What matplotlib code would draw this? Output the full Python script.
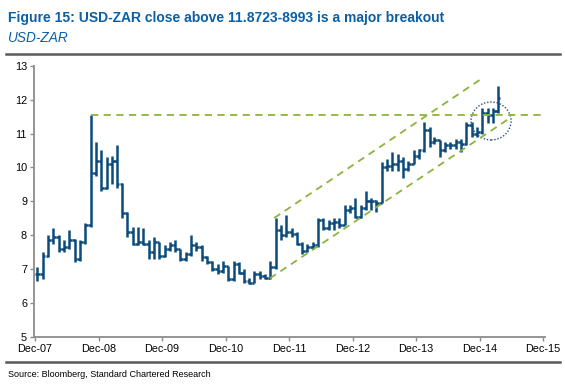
import numpy as np
import pandas as pd
import matplotlib
matplotlib.use("Agg")
import matplotlib.pyplot as plt
import matplotlib.dates as mdates
from matplotlib.lines import Line2D
from matplotlib.patches import Ellipse

plt.rcParams['font.family'] = ['Liberation Sans', 'DejaVu Sans']

# monthly USD-ZAR bars, Dec-07 .. Mar-15
months = pd.date_range("2007-12-01", "2015-03-01", freq="MS")
opens = [6.85, 6.85, 7.40, 7.85, 7.95, 7.60, 7.65, 7.85, 7.30, 7.80,
         8.30, 9.85, 10.20, 9.40, 10.10, 10.20, 9.50, 8.65, 8.10, 7.75,
         7.80, 7.75, 7.50, 7.80, 7.40, 7.60, 7.70, 7.60, 7.30, 7.45,
         7.70, 7.65, 7.35, 7.20, 7.00, 6.95, 7.10, 6.70, 7.15, 6.90,
         6.65, 6.60, 6.85, 6.80, 6.75, 7.05, 8.15, 8.00, 8.10, 8.05,
         7.75, 7.55, 7.65, 7.70, 8.45, 8.20, 8.35, 8.40, 8.30, 8.75,
         8.80, 8.55, 8.80, 9.00, 9.00, 8.95, 10.00, 10.05, 10.10, 10.20,
         9.95, 10.10, 10.35, 10.50, 11.10, 10.75, 10.80, 10.50, 10.65, 10.65,
         10.75, 10.70, 11.25, 11.00, 11.05, 11.60, 11.55, 11.65]
highs = [7.05, 7.50, 8.00, 8.20, 8.00, 7.85, 8.15, 7.90, 7.85, 8.35,
         11.56, 10.75, 10.50, 10.30, 10.35, 10.65, 9.55, 8.70, 8.25, 8.25,
         8.20, 7.85, 7.95, 7.80, 7.70, 7.80, 7.85, 7.60, 7.50, 8.00,
         7.80, 7.70, 7.40, 7.25, 7.15, 7.25, 7.10, 7.25, 7.20, 7.00,
         6.75, 6.95, 6.95, 6.85, 7.25, 8.50, 8.30, 8.60, 8.20, 8.10,
         7.80, 7.75, 7.80, 8.50, 8.50, 8.45, 8.50, 8.50, 8.90, 8.90,
         9.10, 8.90, 9.30, 9.10, 9.05, 10.15, 10.25, 10.45, 10.40, 10.30,
         10.20, 10.50, 10.55, 11.35, 11.20, 10.90, 10.80, 10.75, 10.75, 10.85,
         10.85, 11.35, 11.35, 11.20, 11.75, 11.75, 11.75, 12.40]
lows = [6.65, 6.70, 7.35, 7.75, 7.50, 7.50, 7.60, 7.20, 7.25, 7.75,
        8.25, 9.75, 9.30, 9.35, 9.50, 9.40, 8.50, 7.95, 7.70, 7.70,
        7.70, 7.30, 7.30, 7.30, 7.35, 7.55, 7.50, 7.25, 7.25, 7.40,
        7.55, 7.25, 7.15, 6.95, 6.85, 6.90, 6.65, 6.65, 6.85, 6.60,
        6.55, 6.60, 6.70, 6.70, 6.70, 7.00, 7.85, 7.95, 7.95, 7.70,
        7.45, 7.50, 7.60, 7.65, 8.15, 8.15, 8.15, 8.20, 8.30, 8.65,
        8.50, 8.50, 8.75, 8.75, 8.70, 8.95, 9.90, 9.90, 9.90, 9.70,
        9.90, 10.10, 10.25, 10.45, 10.60, 10.70, 10.30, 10.45, 10.55, 10.55,
        10.45, 10.65, 10.90, 10.90, 11.00, 11.30, 11.30, 11.60]
closes = [6.85, 7.40, 7.85, 7.95, 7.60, 7.65, 7.85, 7.30, 7.80, 8.30,
          9.85, 10.20, 9.40, 10.10, 10.20, 9.50, 8.65, 8.10, 7.75, 7.80,
          7.75, 7.50, 7.80, 7.40, 7.60, 7.70, 7.60, 7.30, 7.45, 7.70,
          7.65, 7.35, 7.20, 7.00, 6.95, 7.10, 6.70, 7.15, 6.90, 6.65,
          6.60, 6.85, 6.80, 6.75, 7.05, 8.15, 8.00, 8.10, 8.05, 7.75,
          7.55, 7.65, 7.70, 8.45, 8.20, 8.35, 8.40, 8.30, 8.75, 8.80,
          8.55, 8.80, 9.00, 9.00, 8.95, 10.00, 10.05, 10.10, 10.20, 9.95,
          10.10, 10.35, 10.50, 11.10, 10.75, 10.80, 10.50, 10.65, 10.65, 10.75,
          10.70, 11.25, 11.00, 11.05, 11.60, 11.55, 11.65, 12.05]

# trend channel and breakout level
lower_channel = (["2011-08-13", "2015-05-14"], [6.73, 11.42])
upper_channel = (["2011-09-07", "2014-12-16"], [8.51, 12.63])
breakout_level = (["2008-10-20", "2015-11-24"], [11.54, 11.54])
circle_center = ("2015-02-05", 11.37)

years = pd.date_range("2007-12-01", "2015-12-01", freq="12MS")
year_labels = [d.strftime("%b-%y") for d in years]

navy = "#0C4A7C"
green = "#8CB43C"
blue_title = "#0A5FA5"

fig = plt.figure(figsize=(5.65, 3.88), dpi=100)
ax = fig.add_axes([0.0602, 0.1314, 0.9044, 0.6993])

mid = months + pd.Timedelta(days=15)
half = pd.Timedelta(days=15)
ax.vlines(mid, lows, highs, color=navy, lw=1.8)
ax.hlines(opens, mid - half, mid, color=navy, lw=1.8)
ax.hlines(closes, mid, mid + half, color=navy, lw=1.8)

dash = dict(color=green, lw=1.3, dashes=(4, 3))
ax.plot(pd.to_datetime(lower_channel[0]), lower_channel[1], **dash)
ax.plot(pd.to_datetime(upper_channel[0]), upper_channel[1], **dash)
ax.plot(pd.to_datetime(breakout_level[0]), breakout_level[1], **dash)

cx = mdates.date2num(pd.Timestamp(circle_center[0]))
ax.add_patch(Ellipse((cx, circle_center[1]), width=230, height=1.12,
                     fill=False, ec="#2A4A80", lw=1.0, ls=(0, (1, 1.3))))

ax.set_ylim(5, 13)
ax.set_yticks(range(5, 14))
ax.set_xlim(pd.Timestamp("2007-11-26"), pd.Timestamp("2015-12-12"))
ax.set_xticks(years)
ax.set_xticklabels(year_labels)

for s in ["top", "right"]:
    ax.spines[s].set_visible(False)
for s in ["left", "bottom"]:
    ax.spines[s].set_color("#8C8C8C")
    ax.spines[s].set_linewidth(1.3)
ax.tick_params(axis="both", colors="#8C8C8C", labelcolor="black",
               labelsize=7.8, length=3, width=1, pad=2)

fig.text(0.014, 0.953, "Figure 15: USD-ZAR close above 11.8723-8993 is a major breakout",
         fontsize=10, fontweight="bold", color=blue_title, va="center")
fig.text(0.014, 0.902, "USD-ZAR", fontsize=9.8, style="italic", color=blue_title, va="center")
fig.add_artist(Line2D([0.011, 0.991], [0.860, 0.860], transform=fig.transFigure,
                      color="#5A5A5A", lw=1.8))
fig.add_artist(Line2D([0.011, 0.991], [0.067, 0.067], transform=fig.transFigure,
                      color="#5A5A5A", lw=1.8))
fig.text(0.014, 0.036, "Source: Bloomberg, Standard Chartered Research",
         fontsize=6.5, color="black", va="center")

fig.savefig("out.png", dpi=100)
